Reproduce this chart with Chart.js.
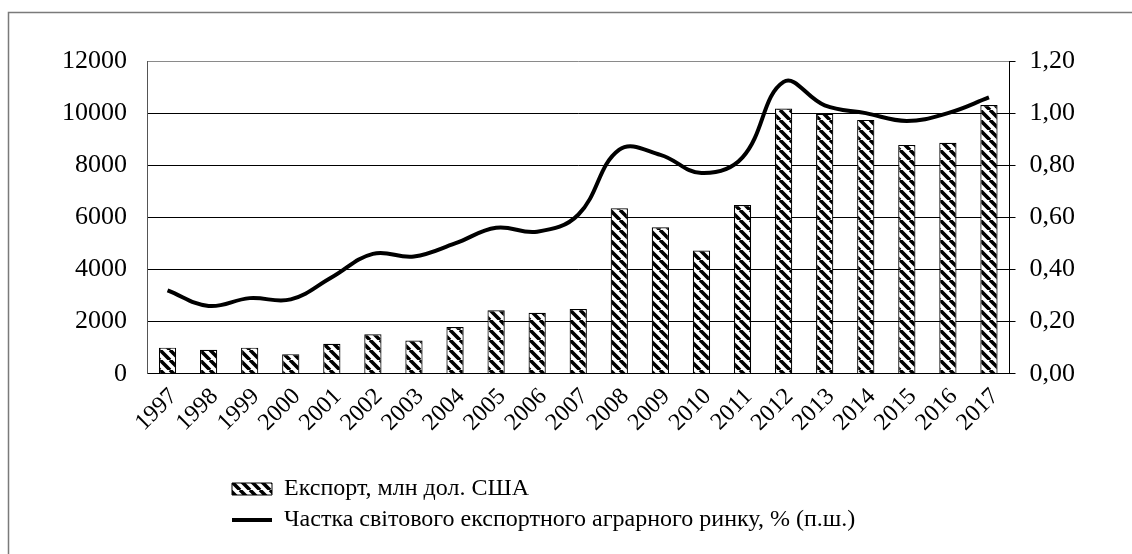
<!DOCTYPE html>
<html>
<head>
<meta charset="utf-8">
<script src="https://cdn.jsdelivr.net/npm/chart.js@4.4.1/dist/chart.umd.min.js"></script>
<style>
html, body { margin: 0; padding: 0; background: #fff; }
#wrap { width: 1132px; height: 554px; position: relative; }
</style>
</head>
<body>
<div id="wrap"><canvas id="c" width="1132" height="554"></canvas></div>
<script>
const years = ['1997','1998','1999','2000','2001','2002','2003','2004','2005','2006','2007','2008','2009','2010','2011','2012','2013','2014','2015','2016','2017'];
const exportValues = [1000, 920, 1000, 750, 1150, 1510, 1270, 1790, 2430, 2340, 2480, 6350, 5620, 4730, 6470, 10180, 9970, 9740, 8780, 8860, 10310];
const shareValues = [0.32, 0.26, 0.29, 0.285, 0.37, 0.46, 0.45, 0.50, 0.56, 0.545, 0.61, 0.86, 0.84, 0.77, 0.83, 1.12, 1.03, 1.00, 0.97, 1.00, 1.06];
const leftTickLabels = ['0','2000','4000','6000','8000','10000','12000'];
const rightTickLabels = ['0,00','0,20','0,40','0,60','0,80','1,00','1,20'];
const seriesNames = ['Експорт, млн дол. США', 'Частка світового експортного аграрного ринку, % (п.ш.)'];

const FONT = 'Liberation Serif';
const FS_Y = 26;
const FS_X = 24;
const FS_L = 24;

function makeHatch() {
  const s = 10;
  const c = document.createElement('canvas');
  c.width = s; c.height = s;
  const g = c.getContext('2d');
  g.fillStyle = '#fff';
  g.fillRect(0, 0, s, s);
  g.strokeStyle = '#000';
  g.lineWidth = 3.6;
  g.beginPath();
  for (const o of [-s, 0, s]) { g.moveTo(o, 0); g.lineTo(o + s, s); }
  g.stroke();
  return g.createPattern(c, 'repeat');
}
const hatch = makeHatch();

const framePlugin = {
  id: 'frame',
  afterLayout(chart) {
    const l = chart.legend;
    if (!l) return;
    const left = 225;
    l.left = left; l.right = left + l.width;
    const top = 470;
    l.top = top; l.bottom = top + l.height;
  },
  beforeDraw(chart) {
    const ctx = chart.ctx;
    ctx.save();
    ctx.fillStyle = '#fff';
    ctx.fillRect(0, 0, chart.width, chart.height);
    ctx.strokeStyle = '#7a7a7a';
    ctx.lineWidth = 1.5;
    ctx.beginPath();
    ctx.moveTo(8.5, chart.height);
    ctx.lineTo(8.5, 12.5);
    ctx.lineTo(chart.width, 12.5);
    ctx.stroke();
    ctx.restore();
  }
};

new Chart(document.getElementById('c'), {
  type: 'bar',
  data: {
    labels: years,
    datasets: [
      {
        type: 'bar',
        label: seriesNames[0],
        data: exportValues,
        yAxisID: 'y',
        backgroundColor: hatch,
        borderColor: '#000',
        borderWidth: 1.2,
        barPercentage: 0.42,
        categoryPercentage: 1,
        order: 1
      },
      {
        type: 'line',
        label: seriesNames[1],
        data: shareValues,
        yAxisID: 'y1',
        borderColor: '#000',
        borderWidth: 4,
        pointRadius: 0,
        tension: 0.4,
        fill: false,
        order: 0
      }
    ]
  },
  options: {
    responsive: false,
    animation: false,
    devicePixelRatio: 1,
    layout: { padding: { top: 61, left: 42, right: 43, bottom: 36 } },
    plugins: {
      tooltip: { enabled: false },
      legend: {
        position: 'bottom',
        align: 'start',
        fullSize: false,
        labels: {
          font: { family: FONT, size: FS_L },
          color: '#000',
          usePointStyle: true,
          pointStyleWidth: 40,
          boxHeight: 12,
          padding: 7,
          generateLabels() {
            return [
              { text: seriesNames[0], fillStyle: hatch, strokeStyle: '#000', lineWidth: 1, pointStyle: 'rect', datasetIndex: 0, hidden: false, fontColor: '#000' },
              { text: seriesNames[1], fillStyle: '#000', strokeStyle: '#000', lineWidth: 4, pointStyle: 'line', datasetIndex: 1, hidden: false, fontColor: '#000' }
            ];
          }
        }
      }
    },
    scales: {
      x: {
        grid: { display: false, drawTicks: false },
        border: { color: '#000', width: 1 },
        ticks: {
          font: { family: FONT, size: FS_X },
          color: '#000',
          minRotation: 45,
          maxRotation: 45,
          autoSkip: false,
          padding: 9,
          labelOffset: 6
        }
      },
      y: {
        position: 'left',
        min: 0,
        max: 12000,
        ticks: {
          stepSize: 2000,
          font: { family: FONT, size: FS_Y },
          color: '#000',
          padding: 20,
          callback: (v, i) => leftTickLabels[i]
        },
        grid: {
          drawTicks: false,
          lineWidth: 1,
          color: (ctx) => (ctx.tick && ctx.tick.value === 12000) ? '#8a8a8a' : '#000'
        },
        border: { color: '#555', width: 1 }
      },
      y1: {
        position: 'right',
        min: 0,
        max: 1.2,
        ticks: {
          stepSize: 0.2,
          font: { family: FONT, size: FS_Y },
          color: '#000',
          padding: 14,
          callback: (v, i) => rightTickLabels[i]
        },
        grid: { drawOnChartArea: false, drawTicks: true, tickLength: 6, color: '#000' },
        border: { color: '#000', width: 1 }
      }
    }
  },
  plugins: [framePlugin]
});
</script>
</body>
</html>
